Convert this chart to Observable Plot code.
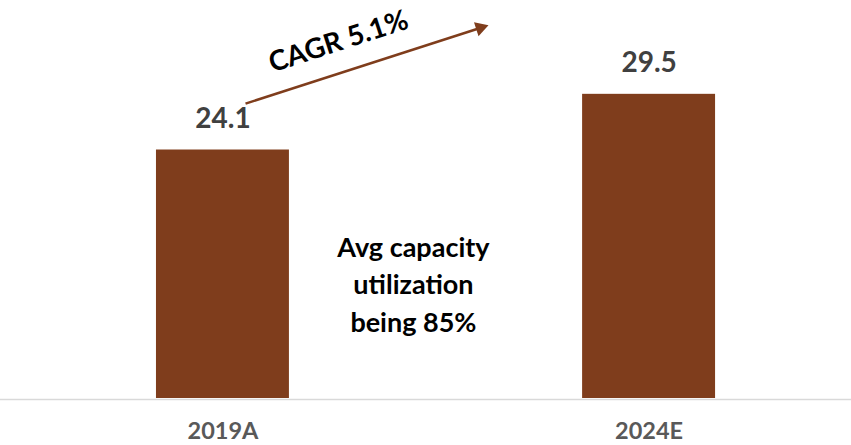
<!DOCTYPE html>
<html><head><meta charset="utf-8">
<script src="https://cdn.jsdelivr.net/npm/d3@7"></script>
<script src="https://cdn.jsdelivr.net/npm/@observablehq/plot@0.6"></script>
<style>body{margin:0;background:#fff}</style>
</head><body><div id="chart"></div>
<script>
// Data
const categories = ["2019A", "2024E"];
const values = [24.1, 29.5];
const cagrLabel = "CAGR 5.1%";
const noteText = "Avg capacity\nutilization\nbeing 85%";

// Annotation anchors (in data units: x = category index, y = value)
const arrowLine = [{x1: 0.053, y1: 28.6, x2: 0.598, y2: 35.86}];
const arrowHead = [{x: 0.604, y: 35.94}];
const cagrAnchor = [{x: 0.271, y: 34.6}];
const noteAnchor = [{x: 0.447, y: 11.26}];

const data = categories.map((c, i) => ({category: c, index: i, value: values[i]}));
const barHalf = 0.156;
const brown = "#7F3D1C";

const chart = Plot.plot({
  width: 851,
  height: 445,
  marginLeft: 0,
  marginRight: 0,
  marginTop: 0,
  marginBottom: 47,
  style: {fontFamily: "Lato, 'Open Sans', sans-serif", background: "#fff"},
  x: {type: "linear", domain: [-0.522, 1.475], axis: null},
  y: {domain: [0, 38.6], axis: null},
  marks: [
    Plot.rectY(data, {x1: d => d.index - barHalf, x2: d => d.index + barHalf, y: "value", fill: brown}),
    Plot.ruleY([0], {stroke: "#D9D9D9", strokeWidth: 1.5, dy: 1}),
    Plot.text(data, {x: "index", y: "value", text: d => d.value.toFixed(1), dy: -31, fontSize: 28, fontWeight: "bold", fill: "#404040"}),
    Plot.axisX({ticks: [0, 1], tickFormat: i => categories[i], tickSize: 0, tickPadding: 24, fontSize: 23.5, fontWeight: "bold", color: "#595959"}),
    Plot.link(arrowLine, {x1: "x1", y1: "y1", x2: "x2", y2: "y2", stroke: brown, strokeWidth: 2.5}),
    Plot.dot(arrowHead, {x: "x", y: "y", symbol: "triangle", r: 5.5, rotate: 72.2, fill: brown, stroke: "none"}),
    Plot.text(cagrAnchor, {x: "x", y: "y", text: () => cagrLabel, rotate: -18, fontSize: 28, fontWeight: "bold", fill: "#000"}),
    Plot.text(noteAnchor, {x: "x", y: "y", text: () => noteText, fontSize: 27, fontWeight: "bold", lineHeight: 1.39, fill: "#000"})
  ]
});
document.getElementById("chart").append(chart);
</script>
</body></html>
